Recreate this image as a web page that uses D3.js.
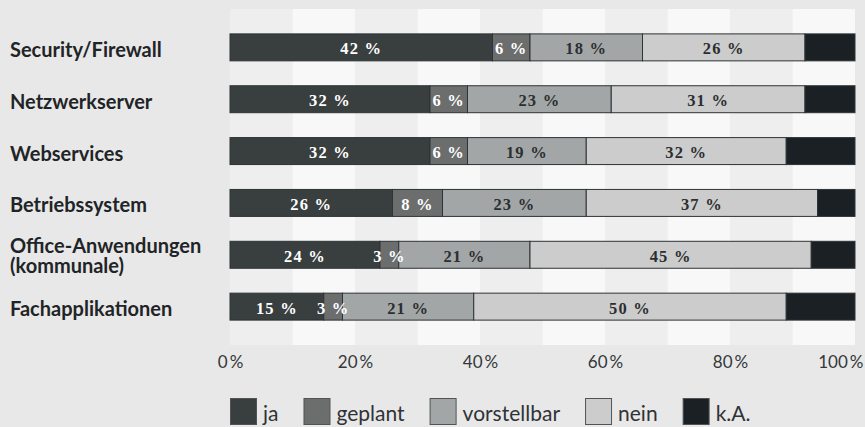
<!DOCTYPE html>
<html>
<head>
<meta charset="utf-8">
<script src="https://cdn.jsdelivr.net/npm/d3@7"></script>
<style>
  html, body { margin: 0; padding: 0; background: #e8e8e8; }
  svg { display: block; }
</style>
</head>
<body>
<div id="chart"></div>
<script>
// data (percent of respondents)
const categories = ["Security/Firewall", "Netzwerkserver", "Webservices", "Betriebssystem",
                    "Office-Anwendungen\n(kommunale)", "Fachapplikationen"];
const series = ["ja", "geplant", "vorstellbar", "nein", "k.A."];
const ja          = [42, 32, 32, 26, 24, 15];
const geplant     = [6, 6, 6, 8, 3, 3];
const vorstellbar = [18, 23, 19, 23, 21, 21];
const nein        = [26, 31, 32, 37, 45, 50];
const ka          = [8, 8, 11, 6, 7, 11];
const tickValues  = [0, 20, 40, 60, 80, 100];
const tickLabels  = ["0\u2009%", "20\u2009%", "40\u2009%", "60\u2009%", "80\u2009%", "100\u2009%"];

const colors = ["#393e3f", "#6c6d6d", "#a3a6a6", "#cccccc", "#1b2025"];
const labelColors = ["#ffffff", "#ffffff", "#2b2f31", "#2b2f31", null];

let width = 865, height = 427;
let margin = {left: 230, right: 10, top: 9, bottom: 82};

let rows = categories.map((c, i) => ({
    cat: c, "ja": ja[i], "geplant": geplant[i], "vorstellbar": vorstellbar[i], "nein": nein[i], "k.A.": ka[i]
}));

let svg = d3.select("#chart")
    .append("svg")
    .attr("width", width)
    .attr("height", height);

let x = d3.scaleLinear()
    .domain([0, 100])
    .range([margin.left, width - margin.right]);

let y = d3.scaleBand()
    .domain(categories)
    .range([margin.top, height - margin.bottom])
    .padding(0.48);

// striped plot background, 10 % each
let stripes = d3.range(0, 100, 10);
svg.append("g")
    .selectAll("rect")
    .data(stripes)
    .enter()
    .append("rect")
    .attr("x", d => x(d))
    .attr("width", d => x(d + 10) - x(d))
    .attr("y", margin.top)
    .attr("height", height - margin.bottom - margin.top)
    .attr("fill", (d, i) => i % 2 === 0 ? "#eeeeee" : "#f8f8f8");

let stacked = d3.stack().keys(series)(rows);

let layers = svg.append("g")
    .selectAll("g")
    .data(stacked)
    .enter()
    .append("g")
    .attr("fill", (d, i) => colors[i]);

layers.selectAll("rect")
    .data(d => d)
    .enter()
    .append("rect")
    .attr("x", d => x(d[0]))
    .attr("width", d => x(d[1]) - x(d[0]))
    .attr("y", d => y(d.data.cat))
    .attr("height", y.bandwidth())
    .attr("stroke", "#2e3335")
    .attr("stroke-width", 1);

// value labels
let labelsG = svg.append("g");
stacked.forEach((layer, i) => {
    if (!labelColors[i]) return;
    labelsG.selectAll(null)
        .data(layer)
        .enter()
        .append("text")
        .attr("x", d => (x(d[0]) + x(d[1])) / 2)
        .attr("y", d => y(d.data.cat) + y.bandwidth() / 2 + 7)
        .attr("text-anchor", "middle")
        .attr("font-family", "'Liberation Serif', serif")
        .attr("font-weight", "bold")
        .attr("font-size", "16.5px")
        .attr("letter-spacing", "1.2px")
        .attr("fill", labelColors[i])
        .text(d => (d[1] - d[0]) + " %");
});

// category labels
let catG = svg.append("g");
categories.forEach(c => {
    let lines = c.split("\n");
    let cy = y(c) + y.bandwidth() / 2;
    let t = catG.append("text")
        .attr("x", 10)
        .attr("y", lines.length > 1 ? cy - 1.5 : cy + 9.5)
        .attr("font-family", "Lato, sans-serif")
        .attr("font-weight", "bold")
        .attr("font-size", "20px")
        .attr("fill", "#1f2427");
    lines.forEach((l, k) => {
        t.append("tspan")
            .attr("x", 10)
            .attr("dy", k === 0 ? 0 : 19.5)
            .text(l);
    });
});

// x axis
let xAxisCall = d3.axisBottom(x)
    .tickValues(tickValues)
    .tickSize(0)
    .tickFormat((d, i) => tickLabels[i]);

let xAxisGroup = svg.append("g")
    .attr("class", "x axis")
    .attr("transform", "translate(0," + (height - margin.bottom) + ")")
    .call(xAxisCall);

xAxisGroup.select(".domain").remove();
xAxisGroup.selectAll("text")
    .attr("y", 23)
    .attr("dy", 0)
    .attr("font-family", "Lato, sans-serif")
    .attr("font-weight", 400)
    .attr("font-size", "17px")
    .attr("fill", "#34383a");
// last label is pulled inside the page edge
xAxisGroup.selectAll("text")
    .filter(d => d === 100)
    .attr("text-anchor", "end")
    .attr("x", 8);

// legend
let legend = svg.append("g")
    .attr("transform", "translate(230, 398)");
let lx = 0;
series.forEach((s, i) => {
    let item = legend.append("g").attr("transform", "translate(" + lx + ",0)");
    item.append("rect")
        .attr("x", 0.5)
        .attr("y", 0.5)
        .attr("width", 26)
        .attr("height", 26)
        .attr("fill", colors[i])
        .attr("stroke", "#505456")
        .attr("stroke-width", 1);
    let txt = item.append("text")
        .attr("x", 33)
        .attr("y", 23)
        .attr("font-family", "Lato, sans-serif")
        .attr("font-weight", 400)
        .attr("font-size", "21px")
        .attr("fill", "#2f3335")
        .text(s);
    lx += 33 + txt.node().getComputedTextLength() + 25;
});
</script>
</body>
</html>
